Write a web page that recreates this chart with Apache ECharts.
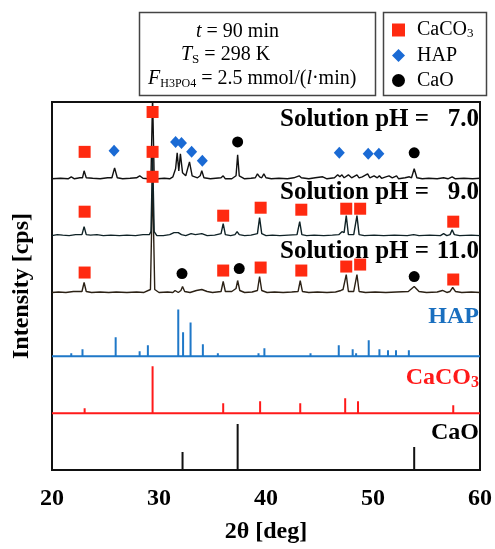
<!DOCTYPE html>
<html><head><meta charset="utf-8">
<script src="https://cdn.jsdelivr.net/npm/echarts@6/dist/echarts.min.js"></script>
<style>html,body{margin:0;padding:0;background:#fff}#c{width:495px;height:549px}</style>
</head><body><div id="c"></div>
<script>
// ---- data (2θ in deg, intensity in arbitrary units above each pattern's own baseline) ----
const xTicks = [20, 30, 40, 50, 60];
const phLabels = ['7.0', '9.0', '11.0'];
const refLabels = ['HAP', 'CaCO3', 'CaO'];

const pH7 = [[20,0],[20.8,0.5],[21.5,0],[21.8,2],[22.1,0],[22.6,1],[22.85,1],[23.0,8],[23.2,1],[23.8,0.5],[24.5,0],[25.2,1],[25.6,1],[25.85,11],[26.1,1],[26.6,0],[27.3,0.5],[27.9,1],[28.2,3],[28.5,0.5],[29.0,0],[29.25,2],[29.4,82],[29.55,2],[29.9,0],[30.5,0.5],[31.0,0],[31.3,2],[31.55,10],[31.7,26],[31.85,8],[32.0,25],[32.2,6],[32.5,3],[32.85,17],[33.1,3],[33.6,1],[33.85,3],[34.0,8],[34.2,1],[34.8,0],[35.3,0.5],[35.8,1],[36.0,3],[36.2,0],[36.8,0],[37.2,3],[37.35,24],[37.5,3],[38,0],[38.6,0.5],[39.0,1],[39.2,5],[39.4,2],[39.6,1],[39.8,5],[40.0,1],[40.5,0],[41.2,0.5],[42.0,0],[42.6,1],[43.1,3],[43.3,1],[44.0,0],[44.6,1],[45.3,2],[45.7,0],[46.4,1],[46.7,4],[46.9,2],[47.1,4],[47.3,1],[47.7,4],[48.0,1],[48.5,4],[48.7,1],[49.0,2],[49.5,5],[49.7,1],[50.1,3],[50.4,1],[50.6,3],[50.8,0.5],[51.2,2],[51.5,3],[51.8,1],[52.2,3],[52.4,0],[53.0,1],[53.4,2],[53.6,1],[53.85,10],[54.1,1],[54.6,0],[55.2,0.5],[56.0,0],[56.6,1],[57.0,0],[57.4,2],[57.7,0],[58.5,0.5],[59.3,0],[60,0.5]];

const pH9 = [[20,0],[20.5,1],[21,0.5],[21.6,0],[22.2,1],[22.8,1],[23.0,9],[23.2,1],[23.6,0.5],[24.2,1],[24.8,0],[25.5,0.5],[26.3,0],[27.0,0.5],[27.8,0],[28.5,1],[29.1,1],[29.25,4],[29.4,82],[29.55,4],[29.8,0],[30.4,0],[31.0,1],[31.4,3],[31.8,3],[32.1,1],[32.5,0],[33.0,2],[33.4,1],[34.0,2],[34.5,0],[35.2,0.5],[35.8,2],[36.0,12],[36.2,1],[36.7,0],[37.1,1],[37.3,4],[37.5,1],[38,0],[38.6,0.5],[39.2,2],[39.4,18],[39.6,2],[40,0],[40.6,0.5],[41.3,0],[42.1,0.5],[42.9,1],[43.15,14],[43.35,1],[43.8,0],[44.5,0.5],[45.4,0],[46.2,0.5],[46.8,1],[47.1,4],[47.3,3],[47.5,20],[47.7,1],[48.2,1],[48.5,20],[48.7,1],[49.2,0],[50.1,0.5],[51,0],[52,0.5],[53.2,0],[53.8,1],[54.3,0],[55.3,0.5],[56.3,0],[56.6,2],[56.9,0],[57.2,1],[57.4,6],[57.6,1],[58.1,0],[59.2,0.5],[60,0]];

const pH11 = [[20,0],[20.6,0.5],[21.3,0],[22.0,1],[22.8,1],[23.0,10],[23.2,1],[23.7,0],[24.5,0.5],[25.3,0],[26,0.5],[27,0],[27.9,0.5],[28.6,0],[29.2,3],[29.4,113],[29.6,3],[30.0,0],[30.8,0.5],[31.3,0],[31.5,2],[31.8,0],[32.05,2],[32.2,6],[32.4,1],[32.9,0],[33.5,2],[34.0,3],[34.5,1],[35.0,0],[35.8,1],[36.0,11],[36.2,1],[36.8,1],[37.2,4],[37.35,12],[37.55,2],[38.0,0],[38.7,0.5],[39.2,2],[39.4,16],[39.6,2],[40.1,0],[40.8,0.5],[41.6,0],[42.4,0.5],[43.0,1],[43.2,12],[43.4,1],[44.0,0],[44.8,0.5],[45.7,0],[46.5,0.5],[47.0,2],[47.2,3],[47.5,18],[47.7,1],[48.2,1],[48.5,18],[48.7,1],[49.3,0],[50.2,0.5],[51.2,0],[52.2,0.5],[53.3,1],[53.85,6],[54.3,1],[55.0,0],[56.0,0.5],[56.5,2],[56.9,0],[57.2,1],[57.45,5],[57.7,1],[58.3,0],[59.2,0.5],[60,0]];

// reference stick patterns [2θ, relative height]
const hapRef = [[21.8,3],[22.85,7],[25.44,2],[25.95,19],[28.19,5],[28.96,11],[31.8,47],[32.25,24],[32.95,34],[34.1,12],[35.5,3],[39.3,3],[39.85,8],[40.45,2],[42.03,2],[42.96,1],[44.16,3],[45.55,2],[46.8,11],[48.1,7],[48.42,3],[49.6,16],[50.6,7],[51.4,6],[52.15,6],[53.35,6],[54.7,2],[56.09,2],[57.48,2],[58.25,2],[58.99,2]];
const caco3Ref = [[23.05,5],[29.4,47],[36.0,10],[39.45,12],[43.2,10],[47.4,15],[48.6,12],[57.5,8]];
const caoRef = [[32.2,18],[37.35,46],[53.85,23]];

// phase markers [2θ, height above the pattern baseline]
const caco3Mk7 = [[23.05,27],[29.4,67]];
const hapMk7 = [[25.8,28],[31.55,37],[32.1,36],[33.05,27],[34.05,18],[46.85,26],[49.55,25],[50.55,25]];
const caoMk7 = [[37.35,37],[53.85,26]];
const caco3Mk9 = [[23.05,24],[29.4,84],[36.0,20],[39.5,28],[43.3,26],[47.5,27],[48.8,27],[57.5,14]];
const caco3Mk11 = [[23.05,20],[29.4,116],[36.0,22],[39.5,25],[43.3,22],[47.5,26],[48.8,28],[57.5,13]];
const caoMk11 = [[32.15,19],[37.5,24],[53.85,16]];

// ---- layout (vertical offsets of stacked patterns) ----
const OFF = {pH7: 292, pH9: 235, pH11: 178, hap: 114, caco3: 57, cao: 0};
const X0 = 20, X1 = 60;

const shift = (arr, b) => arr.map(p => [p[0], p[1] + b]);
function sticks(arr, b) {
  const out = [[X0, b]];
  arr.forEach(p => { out.push([p[0], b], [p[0], b + p[1]], [p[0], b]); });
  out.push([X1, b]);
  return out;
}

const serif = "'Liberation Serif','Times New Roman',serif";
const lineS = (name, data, color, w) => ({
  name, type: 'line', data, showSymbol: false, symbol: 'none', silent: true,
  lineStyle: {color, width: w}, z: 2, animation: false
});

const RED = '#ff2a10', BLUE = '#1a6ad4';

const chart = echarts.init(document.getElementById('c'));
chart.setOption({
  animation: false,
  grid: {left: 52, right: 11, top: 102, bottom: 78, show: true, borderColor: '#111', borderWidth: 2, backgroundColor: 'transparent'},
  xAxis: {
    type: 'value', min: xTicks[0], max: xTicks[xTicks.length - 1], interval: 10,
    axisLine: {show: true, lineStyle: {color: '#111', width: 2}},
    axisTick: {show: false}, splitLine: {show: false},
    axisLabel: {fontFamily: serif, fontWeight: 'bold', fontSize: 24, color: '#000', margin: 17, showMinLabel: true, showMaxLabel: true},
    name: '2θ [deg]', nameLocation: 'middle', nameGap: 50,
    nameTextStyle: {fontFamily: serif, fontWeight: 'bold', fontSize: 24, color: '#000'}
  },
  yAxis: {
    type: 'value', min: 0, max: 369,
    axisLine: {show: false}, axisTick: {show: false}, axisLabel: {show: false}, splitLine: {show: false},
    name: 'Intensity [cps]', nameLocation: 'middle', nameGap: 18, nameRotate: 90,
    nameTextStyle: {fontFamily: serif, fontWeight: 'bold', fontSize: 24, color: '#000'}
  },
  legend: {
    data: ['CaCO3', 'HAP', 'CaO'], orient: 'vertical', left: 392, top: 20,
    itemWidth: 13, itemHeight: 13, itemGap: 5, selectedMode: false, padding: 0,
    formatter: n => n === 'CaCO3' ? '{m|CaCO}{s|3}' : '{m|' + n + '}',
    textStyle: {fontFamily: serif, fontSize: 20, color: '#000',
      rich: {m: {fontFamily: serif, fontSize: 20, color: '#000', padding: [0, 0, 0, 7], lineHeight: 21},
             s: {fontFamily: serif, fontSize: 13, color: '#000', lineHeight: 6, verticalAlign: 'bottom'}}}
  },
  series: [
    lineS('CaO ref', sticks(caoRef, OFF.cao), '#111', 2),
    lineS('CaCO3 ref', sticks(caco3Ref, OFF.caco3), '#ff1a1a', 2),
    lineS('HAP ref', sticks(hapRef, OFF.hap), '#1f78c8', 2),
    lineS('pH 11.0', shift(pH11, OFF.pH11), '#2b2115', 1.4),
    lineS('pH 9.0', shift(pH9, OFF.pH9), '#0f2226', 1.4),
    lineS('pH 7.0', shift(pH7, OFF.pH7), '#111', 1.4),
    {name: 'CaCO3', type: 'scatter', symbol: 'rect', symbolSize: 12, z: 5, silent: true,
     itemStyle: {color: RED, opacity: 1},
     data: [].concat(shift(caco3Mk7, OFF.pH7), shift(caco3Mk9, OFF.pH9), shift(caco3Mk11, OFF.pH11))},
    {name: 'HAP', type: 'scatter', symbol: 'diamond', symbolSize: [11, 12], z: 5, silent: true,
     itemStyle: {color: BLUE, opacity: 1}, data: shift(hapMk7, OFF.pH7)},
    {name: 'CaO', type: 'scatter', symbol: 'circle', symbolSize: 11, z: 5, silent: true,
     itemStyle: {color: '#000', opacity: 1}, data: [].concat(shift(caoMk7, OFF.pH7), shift(caoMk11, OFF.pH11))}
  ],
  graphic: [
    {type: 'rect', z: 0, shape: {x: 139.5, y: 12.5, width: 236, height: 83}, style: {fill: '#fff', stroke: '#444', lineWidth: 1.5}},
    {type: 'rect', z: 0, shape: {x: 383.5, y: 12.5, width: 103, height: 83}, style: {fill: '#fff', stroke: '#444', lineWidth: 1.5}},
    {type: 'text', z: 1, x: 196, y: 32, style: {text: '{i|t}{n| = 90 min}', verticalAlign: 'middle',
      rich: {i: {fontFamily: serif, fontStyle: 'italic', fontSize: 20, lineHeight: 22, fill: '#000'}, n: {fontFamily: serif, fontSize: 20, lineHeight: 22, fill: '#000'}}}},
    {type: 'text', z: 1, x: 181, y: 55, style: {text: '{i|T}{s|S}{n| = 298 K}', verticalAlign: 'middle',
      rich: {i: {fontFamily: serif, fontStyle: 'italic', fontSize: 20, lineHeight: 22, fill: '#000'}, n: {fontFamily: serif, fontSize: 20, lineHeight: 22, fill: '#000'},
             s: {fontFamily: serif, fontSize: 13, lineHeight: 6, verticalAlign: 'bottom', fill: '#000'}}}},
    {type: 'text', z: 1, x: 148, y: 79, style: {text: '{i|F}{s|H3PO4}{n| = 2.5 mmol/(}{i|l}{n|·min)}', verticalAlign: 'middle',
      rich: {i: {fontFamily: serif, fontStyle: 'italic', fontSize: 20, lineHeight: 22, fill: '#000'}, n: {fontFamily: serif, fontSize: 20, lineHeight: 22, fill: '#000'},
             s: {fontFamily: serif, fontSize: 12, lineHeight: 6, verticalAlign: 'bottom', fill: '#000'}}}},
    // pattern labels
    {type: 'text', z: 10, x: 280, y: 120, style: {text: 'Solution pH =', font: 'bold 25px ' + serif, fill: '#000', align: 'left', verticalAlign: 'middle'}},
    {type: 'text', z: 10, x: 479, y: 120, style: {text: phLabels[0], font: 'bold 25px ' + serif, fill: '#000', align: 'right', verticalAlign: 'middle'}},
    {type: 'text', z: 10, x: 280, y: 193, style: {text: 'Solution pH =', font: 'bold 25px ' + serif, fill: '#000', align: 'left', verticalAlign: 'middle'}},
    {type: 'text', z: 10, x: 479, y: 193, style: {text: phLabels[1], font: 'bold 25px ' + serif, fill: '#000', align: 'right', verticalAlign: 'middle'}},
    {type: 'text', z: 10, x: 280, y: 252, style: {text: 'Solution pH =', font: 'bold 25px ' + serif, fill: '#000', align: 'left', verticalAlign: 'middle'}},
    {type: 'text', z: 10, x: 479, y: 252, style: {text: phLabels[2], font: 'bold 25px ' + serif, fill: '#000', align: 'right', verticalAlign: 'middle'}},
    {type: 'text', z: 10, x: 479, y: 317, style: {text: refLabels[0], font: 'bold 24px ' + serif, fill: '#1a6fbf', align: 'right', verticalAlign: 'middle'}},
    {type: 'text', z: 10, x: 479, y: 378, style: {text: '{m|CaCO}{s|3}', align: 'right', verticalAlign: 'middle',
      rich: {m: {fontFamily: serif, fontWeight: 'bold', fontSize: 24, lineHeight: 26, fill: '#ff1a1a'},
             s: {fontFamily: serif, fontWeight: 'bold', fontSize: 16, lineHeight: 8, verticalAlign: 'bottom', fill: '#ff1a1a'}}}},
    {type: 'text', z: 10, x: 479, y: 433, style: {text: refLabels[2], font: 'bold 24px ' + serif, fill: '#000', align: 'right', verticalAlign: 'middle'}}
  ]
});
</script></body></html>
